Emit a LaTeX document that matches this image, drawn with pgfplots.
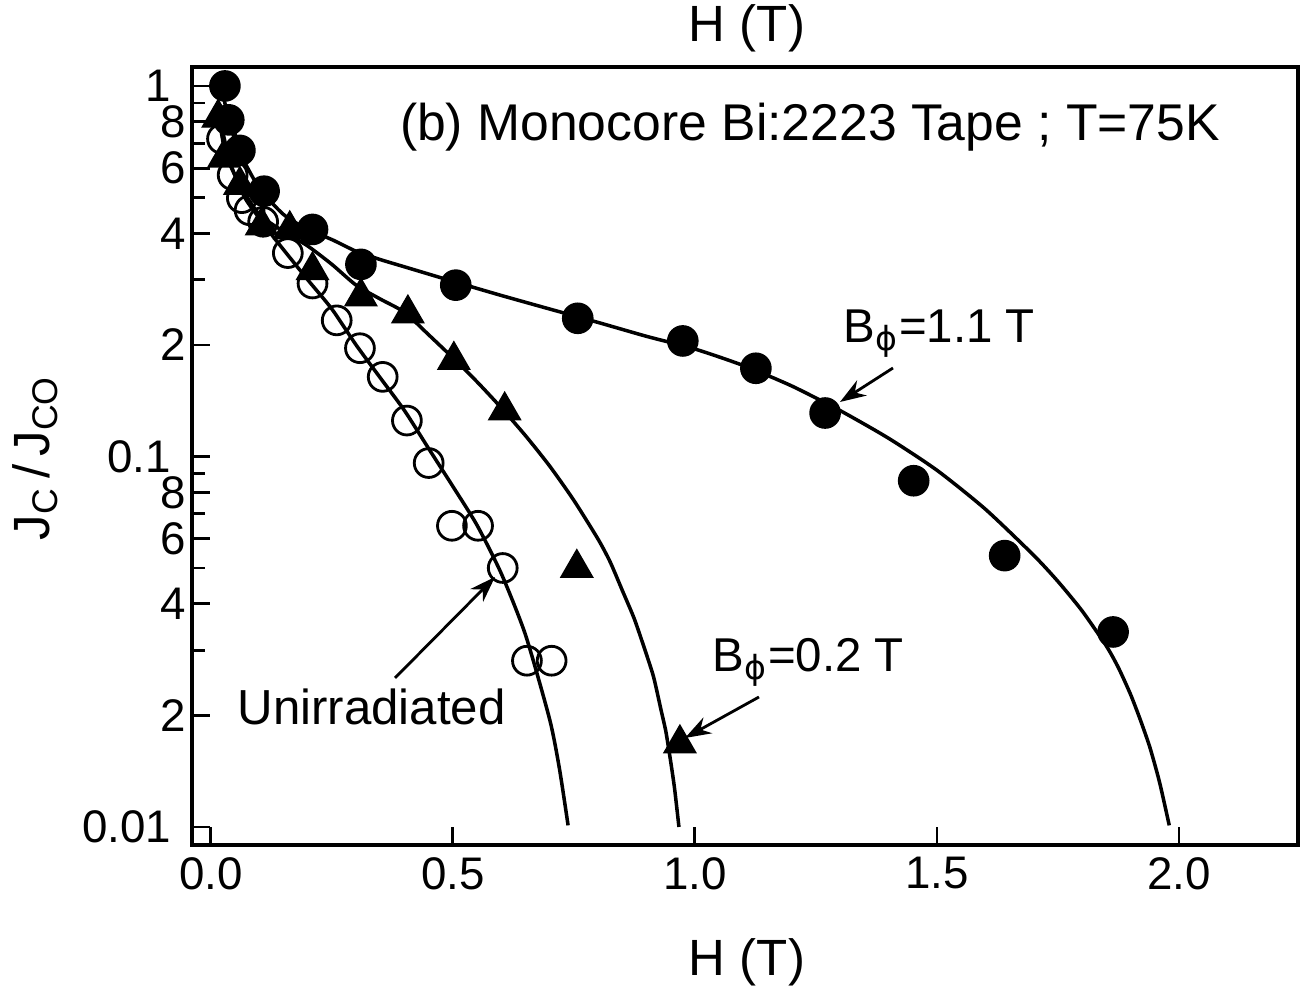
\documentclass[border=0pt]{standalone}
\usepackage{fontspec}
\setmainfont{Liberation Sans}
\newfontfamily\dejavu{DejaVu Sans}
\usepackage{pgfplots}
\pgfplotsset{compat=1.18}
\usetikzlibrary{arrows.meta}
\begin{document}
\begin{tikzpicture}
\path[use as bounding box] (-1.92,-1.46) rectangle (11.21,8.45);
\begin{axis}[
  at={(0,0)}, anchor=south west,
  scale only axis, width=11.06cm, height=7.78cm,
  xmin=-0.039, xmax=2.246,
  ymode=log, ymin=0.00894, ymax=1.125,
  axis line style={line width=1.2pt},
  tick pos=left, tick align=inside,
  xtick={0,0.5,1,1.5,2}, xticklabels={0.0,0.5,1.0,1.5,2.0},
  ytick={0.01,0.02,0.04,0.06,0.08,0.1,0.2,0.4,0.6,0.8,1},
  yticklabels={{0.01\kern0.15cm},2,4,6,8,{0.1\kern0.15cm},2,4,6,8,{1\kern0.15cm}},
  minor ytick={0.03,0.05,0.07,0.09,0.3,0.5,0.7,0.9},
  major tick length=0.18cm, minor tick length=0.13cm,
  every tick/.style={line width=0.8pt, black},
  tick label style={font=\fontsize{13}{15}\selectfont},
  yticklabel style={inner sep=1.5pt},
  /pgf/number format/assume math mode=true,
]
% fitted curves
\addplot[black, line width=1pt, smooth, tension=0.4] coordinates {
(0.025,0.95)(0.04,0.78)(0.06,0.66)(0.1,0.53)(0.15,0.45)(0.2,0.41)(0.25,0.385)
(0.3,0.358)(0.35,0.34)(0.4,0.325)(0.5,0.297)(0.6,0.272)(0.7,0.25)(0.8,0.23)
(0.9,0.211)(1.0,0.195)(1.1,0.176)(1.2,0.155)(1.3,0.133)(1.4,0.112)
(1.5,0.0918)(1.6,0.0721)(1.7,0.0541)(1.75,0.046)(1.8,0.0383)(1.85,0.0308)
(1.875,0.0269)(1.9,0.0228)(1.92,0.0195)(1.94,0.0164)(1.96,0.0132)(1.98,0.0101)};
\addplot[black, line width=1pt, smooth, tension=0.4] coordinates {
(0.015,0.85)(0.03,0.66)(0.06,0.54)(0.1,0.45)(0.15,0.405)(0.2,0.37)(0.25,0.33)
(0.3,0.29)(0.35,0.266)(0.4,0.245)(0.45,0.213)(0.5,0.1846)(0.55,0.159)(0.6,0.1353)
(0.65,0.1138)(0.7,0.0942)(0.75,0.0761)(0.8,0.0598)(0.825,0.0519)(0.85,0.0435)
(0.875,0.0364)(0.9,0.0292)(0.915,0.0253)(0.93,0.0207)(0.94,0.0181)(0.95,0.0150)
(0.958,0.0127)(0.967,0.01)};
\addplot[black, line width=1pt, smooth, tension=0.4] coordinates {
(0.02,0.8)(0.04,0.62)(0.07,0.5)(0.1,0.44)(0.13,0.39)(0.2,0.3)(0.25,0.25)
(0.3,0.2)(0.35,0.163)(0.4,0.133)(0.45,0.105)(0.5,0.083)(0.55,0.0652)(0.6,0.0483)
(0.65,0.033)(0.7,0.0195)(0.72,0.0144)(0.738,0.0101)};
% unirradiated (open circles)
\addplot[only marks, mark=o, mark size=4.1pt, mark options={line width=0.8pt, black, fill=none}] coordinates {
(0.023,0.72)(0.045,0.575)(0.064,0.498)(0.08,0.462)(0.108,0.43)(0.159,0.354)
(0.21,0.293)(0.26,0.233)(0.308,0.196)(0.355,0.164)(0.405,0.125)(0.45,0.096)
(0.498,0.065)(0.552,0.065)(0.603,0.050)(0.653,0.0281)(0.704,0.0281)};
% B=0.2 T (triangles)
\addplot[only marks, mark=triangle*, mark size=5.2pt, mark options={black, fill=black}] coordinates {
(0.015,0.82)(0.027,0.64)(0.06,0.54)(0.105,0.42)(0.163,0.41)(0.21,0.318)
(0.31,0.27)(0.407,0.243)(0.502,0.182)(0.607,0.133)(0.756,0.050)(0.969,0.0168)};
% B=1.1 T (filled circles)
\addplot[only marks, mark=*, mark size=4.3pt, mark options={black, fill=black}] coordinates {
(0.029,1.0)(0.037,0.81)(0.06,0.67)(0.11,0.52)(0.21,0.41)(0.31,0.33)(0.506,0.29)
(0.758,0.236)(0.975,0.205)(1.126,0.173)(1.269,0.131)(1.452,0.086)(1.64,0.054)
(1.864,0.0336)};
\end{axis}
% annotations (1cm = 100px, origin = lower-left of axis box)
\node[font=\fontsize{14.7}{17}\selectfont] at (6.18,7.18) {(b) Monocore Bi:2223 Tape ; T=75K};
\node[font=\fontsize{14.5}{17}\selectfont] at (5.55,8.17) {H (T)};
\node[font=\fontsize{14.5}{17}\selectfont] at (5.55,-1.17) {H (T)};
\node[font=\fontsize{14.5}{17}\selectfont, rotate=90] at (-1.57,3.87) {J\textsubscript{C}\,/\,J\textsubscript{CO}};
\node[font=\fontsize{13.5}{16}\selectfont, anchor=base west, inner sep=0pt] at (6.51,5.02) {B\textsubscript{\dejavu ϕ}=1.1 T};
\node[font=\fontsize{13.5}{16}\selectfont, anchor=base west, inner sep=0pt] at (5.20,1.73) {B\textsubscript{\dejavu ϕ}=0.2 T};
\node[font=\fontsize{14}{17}\selectfont, anchor=base west, inner sep=0pt] at (0.45,1.20) {Unirradiated};
\draw[line width=0.8pt, -{Stealth[length=2.6mm, width=1.8mm]}] (7.01,4.77) -- (6.48,4.43);
\draw[line width=0.8pt, -{Stealth[length=2.6mm, width=1.8mm]}] (5.67,1.48) -- (4.93,1.07);
\draw[line width=0.8pt, -{Stealth[length=2.6mm, width=1.8mm]}] (2.03,1.67) -- (3.03,2.68);
\end{tikzpicture}
\end{document}
